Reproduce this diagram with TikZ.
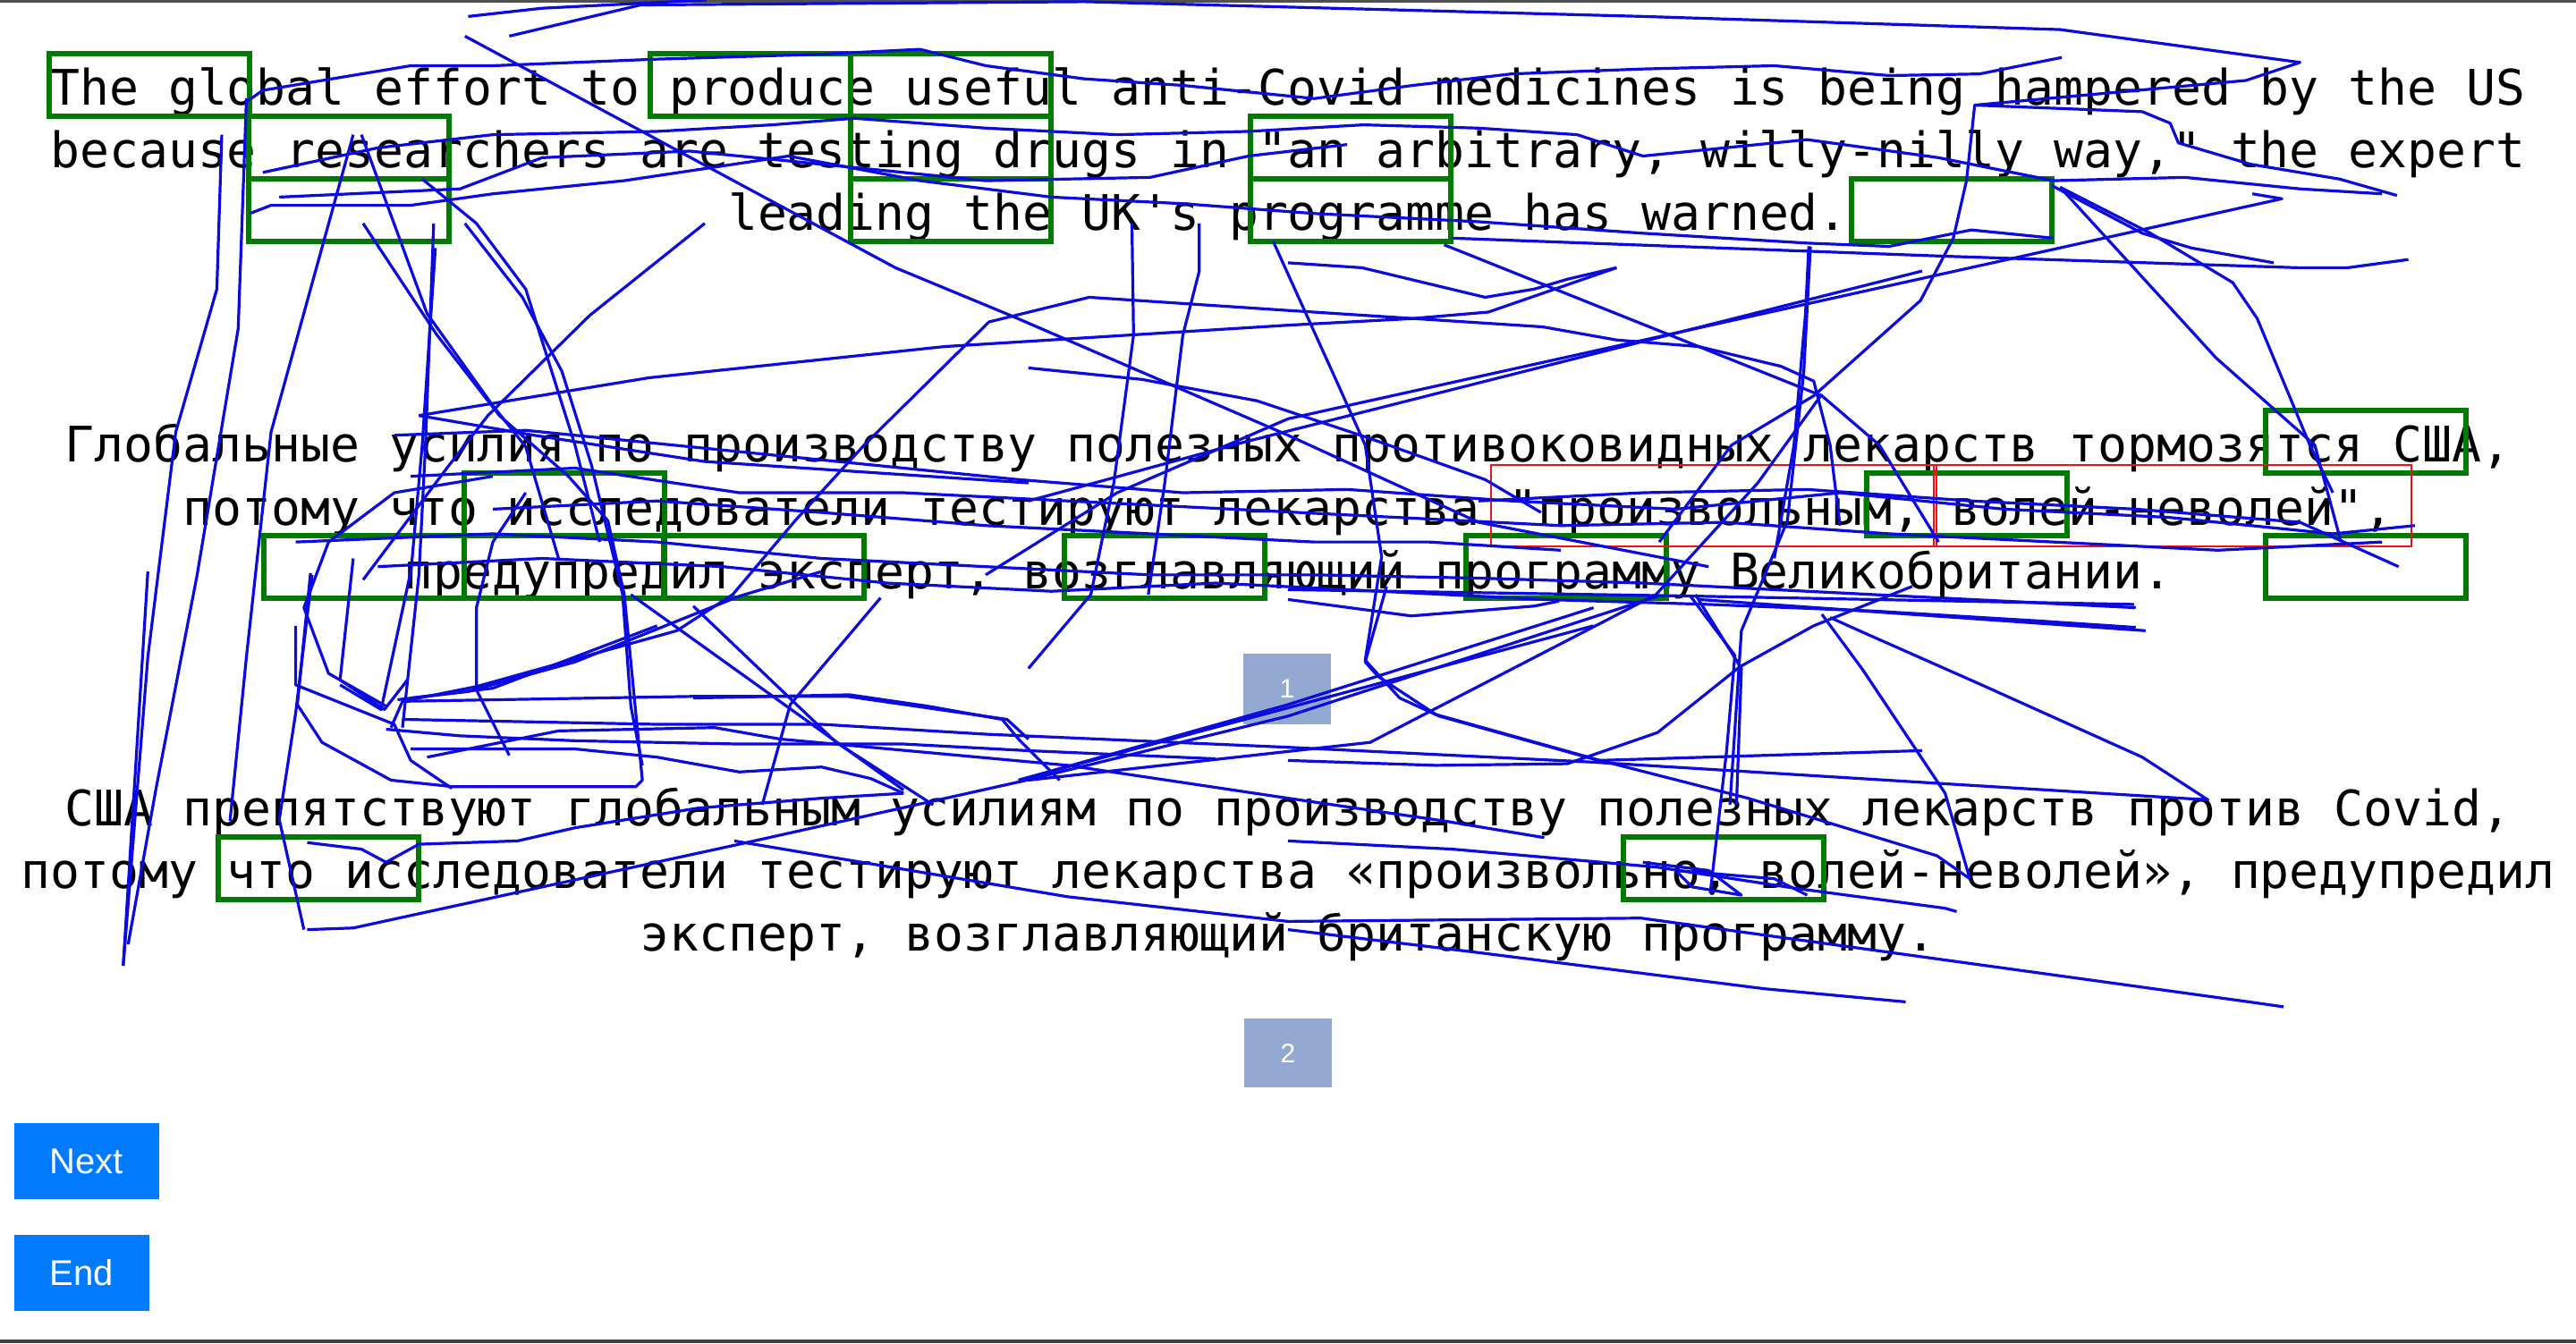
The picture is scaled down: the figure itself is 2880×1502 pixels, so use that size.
\documentclass[tikz,border=0pt]{standalone}
\usepackage{fontspec}
\setmainfont{Liberation Sans}
\setmonofont{DejaVu Sans Mono}
\usepackage{tikz}

\definecolor{gazeblue}{RGB}{10,10,225}
\definecolor{boxgreen}{RGB}{0,122,0}
\definecolor{boxred}{RGB}{235,20,20}
\definecolor{btnblue}{RGB}{0,123,255}
\definecolor{pagegray}{RGB}{148,169,209}
\definecolor{bargray}{RGB}{80,80,80}

\begin{document}
\frenchspacing
\begin{tikzpicture}[x=0.25pt, y=-0.25pt,
	textline/.style={anchor=base, inner sep=0pt,
		font=\ttfamily\fontsize{13.68pt}{17.5pt}\selectfont},
	greenbox/.style={draw=boxgreen, line width=1.3pt},
	redbox/.style={draw=boxred, line width=0.7pt},
	gaze/.style={draw=gazeblue, line width=0.8pt, line join=round},
	pagebox/.style={fill=pagegray, text=white, inner sep=0pt,
		font=\fontsize{7.5pt}{9pt}\selectfont},
	button/.style={fill=btnblue, text=white, inner sep=0pt,
		font=\fontsize{10pt}{12pt}\selectfont}]
	\newcommand\cellw{224}
	\newcommand\cellh{70}

	% 画边框
	\useasboundingbox (0, 0) rectangle (2880, 1502);
	\fill[white] (0, 0) rectangle (2880, 1502);
	\fill[bargray] (0, 0) rectangle (2880, 3);
	\fill[bargray!80!black] (0, 1498) rectangle (2880, 1502);

	% 英文原文
	\node[textline] (en1) at (1440, 117) {The global effort to produce useful anti-Covid medicines is being hampered by the US};
	\node[textline] (en2) at (1440, 187) {because researchers are testing drugs in "an arbitrary, willy-nilly way," the expert};
	\node[textline] (en3) at (1440, 257) {leading the UK's programme has warned.};

	% 译文 1
	\node[textline] (ra1) at (1440, 516) {Глобальные усилия по производству полезных противоковидных лекарств тормозятся США,};
	\node[textline] (ra2) at (1440, 587) {потому что исследователи тестируют лекарства "произвольным, волей-неволей",};
	\node[textline] (ra3) at (1440, 658) {предупредил эксперт, возглавляющий программу Великобритании.};

	% 译文 2
	\node[textline] (rb1) at (1440, 923) {США препятствуют глобальным усилиям по производству полезных лекарств против Covid,};
	\node[textline] (rb2) at (1440, 993) {потому что исследователи тестируют лекарства «произвольно, волей-неволей», предупредил};
	\node[textline] (rb3) at (1440, 1063) {эксперт, возглавляющий британскую программу.};

	% 绿色方框
	\foreach \gx/\gy in {55/60, 727/60, 951/60, 278/130, 951/130, 1398/130,
			278/200, 951/200, 1398/200, 2070/200,
			2533/459, 519/529, 2087/529, 295/599, 519/599, 742/599,
			1190/599, 1639/599, 2533/599, 244/936, 1815/936}
		\draw[greenbox] (\gx, \gy) rectangle ++(\cellw, \cellh);

	% 红色方框
	\draw[redbox] (1667, 520) rectangle (2165, 611);
	\draw[redbox] (2162, 520) rectangle (2696, 611);

	% 页码与按钮
	\node[pagebox, minimum width=24.5pt, minimum height=19.75pt] (page1) at (1439, 770.5) {1};
	\node[pagebox, minimum width=24.5pt, minimum height=19.25pt] (page2) at (1440, 1177.5) {2};
	\node[button, minimum width=40.5pt, minimum height=21.25pt] (next) at (97, 1298.5) {Next};
	\node[button, minimum width=37.75pt, minimum height=21.25pt] (end) at (91.5, 1423.5) {End};

	% 视线轨迹
	\begin{scope}[scale=1.8367]
		\draw[gaze] (285,10) -- (330,5) -- (430,0);
		\draw[gaze] (310,22) -- (390,3) -- (660,1) -- (1000,10) -- (1254,18) -- (1400,38) -- (1367,49) -- (1202,64) -- (1197,110) -- (1189,145) -- (1169,183) -- (1104,241) -- (1054,271) -- (1010,330);
		\draw[gaze] (283,22) -- (545,163) -- (615,192) -- (784,265) -- (900,318) -- (1040,345);
		\draw[gaze] (150,62) -- (160,55) -- (250,40) -- (300,40) -- (400,36) -- (500,33) -- (560,30) -- (600,40) -- (660,48) -- (720,52) -- (800,60) -- (860,52) -- (920,45) -- (1000,42) -- (1080,40) -- (1150,46) -- (1205,45) -- (1255,35);
		\draw[gaze] (160,105) -- (230,90) -- (300,82) -- (400,80) -- (470,76) -- (520,72) -- (600,78) -- (680,82) -- (760,80) -- (830,76) -- (900,78) -- (960,82) -- (1000,95) -- (1100,85) -- (1180,96) -- (1250,110) -- (1330,108) -- (1400,115) -- (1450,118);
		\draw[gaze] (152,130) -- (165,125) -- (250,125) -- (300,118) -- (380,110) -- (480,95) -- (560,110) -- (640,120) -- (720,124) -- (800,130) -- (900,135) -- (1000,142) -- (1100,148) -- (1150,150) -- (1200,140) -- (1250,145);
		\draw[gaze] (170,120) -- (280,115) -- (330,96) -- (420,92) -- (500,100) -- (600,110) -- (700,108) -- (760,95) -- (820,88);
		\draw[gaze] (135,82) -- (132,176) -- (107,263) -- (90,400) -- (75,588);
		\draw[gaze] (215,82) -- (165,263) -- (150,400) -- (140,500);
		\draw[gaze] (150,60) -- (145,200) -- (120,350) -- (95,480) -- (78,575);
		\draw[gaze] (255,253) -- (395,230) -- (575,211) -- (784,198) -- (859,194) -- (906,190) -- (984,163);
		\draw[gaze] (238,443) -- (245,427) -- (290,418) -- (412,384) -- (446,362) -- (484,317) -- (526,271) -- (602,196) -- (663,181) -- (784,189) -- (939,199) -- (984,207) -- (1034,211) -- (1084,223) -- (1104,232) -- (1114,271) -- (1120,320);
		\draw[gaze] (1371,118) -- (1389,121) -- (784,255) -- (680,300) -- (600,350);
		\draw[gaze] (879,149) -- (1019,205) -- (1109,241) -- (1144,271) -- (1180,330);
		\draw[gaze] (784,160) -- (829,163) -- (904,181) -- (934,176) -- (954,170) -- (984,163);
		\draw[gaze] (1101,150) -- (1099,191) -- (1092,271) -- (1080,340);
		\draw[gaze] (1254,114) -- (1349,218) -- (1409,271) -- (1425,330);
		\draw[gaze] (1254,114) -- (1309,142) -- (1359,172) -- (1374,194) -- (1406,271) -- (1420,300);
		\draw[gaze] (884,145) -- (1184,156) -- (1399,163) -- (1429,163) -- (1466,158);
		\draw[gaze] (1249,113) -- (1304,142) -- (1334,151) -- (1384,160);
		\draw[gaze] (1202,64) -- (1304,68) -- (1321,75) -- (1326,87) -- (1370,100) -- (1424,109) -- (1459,119);
		\draw[gaze] (220,82) -- (260,191) -- (300,247) -- (320,272) -- (340,340);
		\draw[gaze] (257,109) -- (290,136) -- (320,176) -- (350,271) -- (365,330);
		\draw[gaze] (265,151) -- (257,271) -- (250,350);
		\draw[gaze] (221,136) -- (266,204) -- (304,253) -- (346,290) -- (370,317) -- (380,362) -- (391,475) -- (387,479) -- (276,479);
		\draw[gaze] (264,136) -- (259,271) -- (255,350) -- (245,443);
		\draw[gaze] (283,136) -- (318,181) -- (342,226) -- (360,283) -- (379,362) -- (384,430) -- (391,466);
		\draw[gaze] (429,136) -- (359,192) -- (297,253) -- (272,285) -- (248,317) -- (221,353);
		\draw[gaze] (255,253) -- (325,265) -- (429,281) -- (626,294);
		\draw[gaze] (689,136) -- (690,204) -- (678,294) -- (664,362) -- (626,407);
		\draw[gaze] (730,136) -- (730,165) -- (720,204) -- (709,294) -- (699,362);
		\draw[gaze] (775,147) -- (814,233) -- (831,271) -- (841,339) -- (831,402) -- (852,425) -- (876,436) -- (973,463) -- (1170,457);
		\draw[gaze] (626,224) -- (695,231) -- (765,244) -- (834,267) -- (904,292) -- (938,312);
		\draw[gaze] (1170,165) -- (758,269) -- (626,305);
		\draw[gaze] (1109,240) -- (1070,294) -- (1008,362) -- (921,407) -- (834,452) -- (626,475);
		\draw[gaze] (1102,150) -- (1098,226) -- (1088,317) -- (1060,384) -- (1053,490);
		\draw[gaze] (1032,362) -- (1060,407) -- (1057,490);
		\draw[gaze] (240,265) -- (320,262) -- (420,272) -- (520,282) -- (620,292) -- (720,300) -- (820,298) -- (920,305) -- (1020,310) -- (1120,300) -- (1220,310) -- (1320,315) -- (1420,325) -- (1470,320);
		\draw[gaze] (250,290) -- (350,285) -- (450,300) -- (550,300) -- (650,305) -- (750,310) -- (850,315) -- (950,320) -- (1050,318) -- (1150,325) -- (1250,330) -- (1350,335) -- (1450,330);
		\draw[gaze] (180,330) -- (300,325) -- (400,330) -- (500,340) -- (600,345) -- (700,350) -- (800,350) -- (900,352) -- (1000,355) -- (1100,360) -- (1200,365) -- (1300,370);
		\draw[gaze] (230,345) -- (330,340) -- (440,345) -- (540,355) -- (640,360) -- (740,355) -- (840,360) -- (940,365) -- (1040,368) -- (1140,372) -- (1240,378) -- (1300,382);
		\draw[gaze] (900,305) -- (1000,300) -- (1100,298) -- (1200,305) -- (1300,310) -- (1400,318) -- (1460,345);
		\draw[gaze] (300,310) -- (400,305) -- (500,312) -- (600,320) -- (700,325) -- (800,330) -- (870,330) -- (950,335);
		\draw[gaze] (235,430) -- (200,410) -- (185,370) -- (200,330) -- (240,300) -- (300,290);
		\draw[gaze] (310,460) -- (290,420) -- (290,370) -- (300,330) -- (320,300);
		\draw[gaze] (245,438) -- (400,441) -- (500,441) -- (600,447) -- (784,455) -- (969,464) -- (1344,487) -- (1304,461) -- (1204,416) -- (1134,385) -- (1114,376);
		\draw[gaze] (235,444) -- (280,448) -- (350,451) -- (450,453) -- (550,453) -- (625,457) -- (740,462);
		\draw[gaze] (260,461) -- (340,445) -- (435,443) -- (475,450) -- (530,455) -- (650,466) -- (784,486) -- (880,500) -- (940,510);
		\draw[gaze] (250,456) -- (350,456) -- (400,461) -- (450,470) -- (500,467) -- (530,474) -- (550,483);
		\draw[gaze] (245,427) -- (422,424) -- (516,424) -- (613,438) -- (626,450);
		\draw[gaze] (242,426) -- (285,421) -- (350,403) -- (450,363) -- (500,348);
		\draw[gaze] (422,425) -- (517,423) -- (565,430) -- (610,438) -- (620,450) -- (645,475);
		\draw[gaze] (384,362) -- (550,481);
		\draw[gaze] (422,369) -- (509,452) -- (568,490);
		\draw[gaze] (536,364) -- (481,429) -- (464,490);
		\draw[gaze] (189,349) -- (181,429) -- (196,452) -- (238,475) -- (276,479);
		\draw[gaze] (215,340) -- (207,414) -- (234,432) -- (248,414);
		\draw[gaze] (187,566) -- (215,565) -- (450,514) -- (625,475) -- (784,436) -- (1009,363);
		\draw[gaze] (620,475) -- (784,429) -- (970,370);
		\draw[gaze] (447,512) -- (650,546) -- (784,561) -- (999,559) -- (1369,610) -- (1390,613);
		\draw[gaze] (784,566) -- (900,580) -- (1074,602) -- (1160,610);
		\draw[gaze] (75,588) -- (90,348);
		\draw[gaze] (185,566) -- (170,499) -- (180,434) -- (190,350);
		\draw[gaze] (207,417) -- (232,432) -- (250,348);
		\draw[gaze] (187,513) -- (220,517) -- (235,525) -- (255,514) -- (315,512) -- (350,504) -- (425,492) -- (500,486) -- (550,483);
		\draw[gaze] (784,463) -- (874,466) -- (954,465) -- (1009,446) -- (1059,406) -- (1104,381) -- (1164,357);
		\draw[gaze] (844,357) -- (831,403) -- (839,412) -- (874,435) -- (974,463) -- (1064,486) -- (1179,521) -- (1199,535);
		\draw[gaze] (1109,374) -- (1134,408) -- (1184,483) -- (1199,535);
		\draw[gaze] (1029,363) -- (1056,399) -- (1051,457) -- (1041,544);
		\draw[gaze] (784,365) -- (859,375) -- (934,369) -- (949,366);
		\draw[gaze] (784,359) -- (1034,363) -- (1299,368);
		\draw[gaze] (1034,365) -- (1306,384);
		\draw[gaze] (784,512) -- (884,517) -- (1009,528) -- (1094,541) -- (1184,553) -- (1191,555);
		\draw[gaze] (620,475) -- (970,381);
		\draw[gaze] (250,425) -- (300,419) -- (400,381);
		\draw[gaze] (275,480) -- (250,463) -- (240,441) -- (180,417) -- (180,381);
		\draw[gaze] (1000,525) -- (1040,530) -- (1060,545) -- (1030,540) -- (1020,530) -- (1080,535) -- (1100,545);
	\end{scope}
\end{tikzpicture}
\end{document}
